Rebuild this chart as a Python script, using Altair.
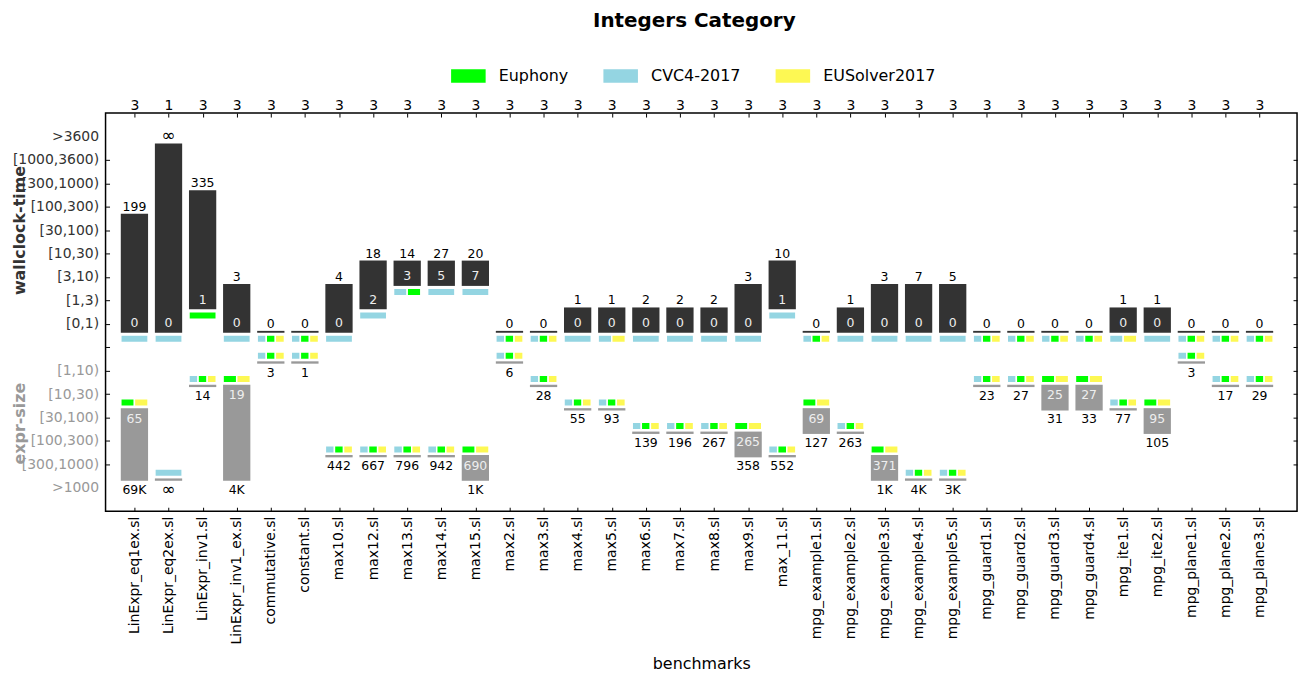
import math
import json
import altair as alt
import pandas as pd

# ---------------- data ----------------
benchmarks = [
    "LinExpr_eq1ex.sl", "LinExpr_eq2ex.sl", "LinExpr_inv1.sl", "LinExpr_inv1_ex.sl",
    "commutative.sl", "constant.sl", "max10.sl", "max12.sl", "max13.sl", "max14.sl",
    "max15.sl", "max2.sl", "max3.sl", "max4.sl", "max5.sl", "max6.sl", "max7.sl",
    "max8.sl", "max9.sl", "max_11.sl", "mpg_example1.sl", "mpg_example2.sl",
    "mpg_example3.sl", "mpg_example4.sl", "mpg_example5.sl", "mpg_guard1.sl",
    "mpg_guard2.sl", "mpg_guard3.sl", "mpg_guard4.sl", "mpg_ite1.sl", "mpg_ite2.sl",
    "mpg_plane1.sl", "mpg_plane2.sl", "mpg_plane3.sl",
]
solved = [3, 1, 3, 3, 3, 3, 3, 3, 3, 3, 3, 3, 3, 3, 3, 3, 3,
          3, 3, 3, 3, 3, 3, 3, 3, 3, 3, 3, 3, 3, 3, 3, 3, 3]

time_best = ["0", "0", "1", "0", "0", "0", "0", "2", "3", "5", "7", "0", "0", "0", "0", "0", "0",
             "0", "0", "1", "0", "0", "0", "0", "0", "0", "0", "0", "0", "0", "0", "0", "0", "0"]
time_worst = ["199", "∞", "335", "3", "0", "0", "4", "18", "14", "27", "20", "0", "0", "1", "1", "2", "2",
              "2", "3", "10", "0", "1", "3", "7", "5", "0", "0", "0", "0", "1", "1", "0", "0", "0"]
time_winners = ["C", "C", "E", "C", "CEY", "CEY", "C", "C", "CE", "C", "C", "CEY", "CEY", "C", "CY", "C", "C",
                "C", "C", "C", "CEY", "C", "C", "C", "C", "CEY", "CEY", "CEY", "CEY", "CY", "C", "CEY", "CEY", "CEY"]

size_best = ["65", "∞", "14", "19", "3", "1", "442", "667", "796", "942", "690", "6", "28", "55", "93", "139", "196",
             "267", "265", "552", "69", "263", "371", "4K", "3K", "23", "27", "25", "27", "77", "95", "3", "17", "29"]
size_worst = ["69K", "∞", "14", "4K", "3", "1", "442", "667", "796", "942", "1K", "6", "28", "55", "93", "139", "196",
              "267", "358", "552", "127", "263", "1K", "4K", "3K", "23", "27", "31", "33", "77", "105", "3", "17", "29"]
size_winners = ["EY", "C", "CEY", "EY", "CEY", "CEY", "CEY", "CEY", "CEY", "CEY", "EY", "CEY", "CEY", "CEY", "CEY", "CEY", "CEY",
                "CEY", "EY", "CEY", "EY", "CEY", "EY", "CEY", "CEY", "CEY", "CEY", "EY", "EY", "CEY", "EY", "CEY", "CEY", "CEY"]

time_bins = ["[0,1)", "[1,3)", "[3,10)", "[10,30)", "[30,100)", "[100,300)", "[300,1000)", "[1000,3600)", ">3600"]
size_bins = ["[1,10)", "[10,30)", "[30,100)", "[100,300)", "[300,1000)", ">1000"]
time_edges = [1, 3, 10, 30, 100, 300, 1000, 3600]
size_edges = [10, 30, 100, 300, 1000]

solver_names = ["Euphony", "CVC4-2017", "EUSolver2017"]
solver_colors = ["#00FF00", "#94D5E2", "#FDF853"]
solver_codes = {"C": "CVC4-2017", "E": "Euphony", "Y": "EUSolver2017"}

FONT = "DejaVu Sans"


def parse(v):
    if v == "∞":
        return math.inf
    if v.endswith("K"):
        return float(v[:-1]) * 1000
    return float(v)


def time_level(v):
    val = parse(v)
    return sum(1 for e in time_edges if e <= val)


def size_level(v):
    val = parse(v)
    return -(2 + sum(1 for e in size_edges if e <= val))


# ---------------- derived tables ----------------
HALF = 0.4
bar_top, bar_bot, strips, texts = [], [], [], []
for i, b in enumerate(benchmarks):
    tmin, tmax = time_level(time_best[i]), time_level(time_worst[i])
    smin, smax = size_level(size_best[i]), size_level(size_worst[i])
    bar_top.append({"x": i - HALF, "x2": i + HALF, "y": tmin - 0.38, "y2": tmax - 0.30})
    bar_bot.append({"x": i - HALF, "x2": i + HALF, "y": smin + 0.40, "y2": smax + 0.30})
    for code, lvl, sign in ((time_winners[i], tmin, -1), (size_winners[i], smin, 1)):
        n = len(code)
        w = 2 * HALF / n
        for k, c in enumerate(code):
            x0 = i - HALF + k * w
            strips.append({"x": x0, "x2": x0 + w, "y": lvl + sign * 0.48,
                           "y2": lvl + sign * 0.80, "solver": solver_codes[c]})
    texts.append({"x": i, "y": tmax, "label": time_worst[i], "kind": "outer"})
    texts.append({"x": i, "y": smax - 0.08, "label": size_worst[i], "kind": "outer"})
    if time_best[i] != time_worst[i]:
        texts.append({"x": i, "y": tmin + 0.03, "label": time_best[i], "kind": "inner"})
    if size_best[i] != size_worst[i]:
        texts.append({"x": i, "y": smin - 0.06, "label": size_best[i], "kind": "inner"})

df_bt = pd.DataFrame(bar_top)
df_bb = pd.DataFrame(bar_bot)
df_st = pd.DataFrame(strips)
df_tx = pd.DataFrame(texts)

XS = alt.Scale(domain=[-0.847, 34.1], nice=False, zero=False)
YS = alt.Scale(domain=[-8, 9], nice=False, zero=False)

names_js = json.dumps(benchmarks, ensure_ascii=False)
solved_js = json.dumps([str(s) for s in solved])
tb_js = json.dumps(time_bins, ensure_ascii=False)
sb_js = json.dumps(size_bins, ensure_ascii=False)

x_bottom = alt.Axis(
    orient="bottom", values=list(range(len(benchmarks))),
    labelExpr=f"{names_js}[datum.value]", labelAngle=270, labelFontSize=14,
    labelColor="black", labelPadding=5, tickSize=4, offset=-4, tickColor="black",
    domain=False, grid=False, title="benchmarks", titleFontSize=16,
    titleFontWeight="normal", titleColor="black", titlePadding=11, labelFont=FONT, titleFont=FONT,
)
x_top = alt.Axis(
    orient="top", values=list(range(len(benchmarks))),
    labelExpr=f"{solved_js}[datum.value]", labelFontSize=14, labelColor="black",
    labelPadding=1, tickSize=4, offset=-4, tickColor="black", domain=False, grid=False,
    title=None, labelFont=FONT,
)
y_left = alt.Axis(
    orient="left", values=list(range(-7, 9)),
    labelExpr=f"datum.value >= 0 ? {tb_js}[datum.value] : (datum.value <= -2 ? {sb_js}[-2 - datum.value] : '')",
    labelFontSize=14, labelPadding=7, tickSize=4, offset=-4, tickColor="black",
    labelColor={"condition": {"test": "datum.value < 0", "value": "#999999"}, "value": "#333333"},
    tickOpacity={"condition": {"test": "datum.value == 8 || datum.value == -7", "value": 0}, "value": 1},
    domain=False, grid=False, title=None, labelFont=FONT,
)
y_right = alt.Axis(
    orient="right", values=list(range(-6, 8)), labels=False, tickSize=4, offset=-4,
    tickColor="black", domain=False, grid=False, title=None,
)

bars_top = alt.Chart(df_bt).mark_rect(color="#333333").encode(
    x=alt.X("x:Q", scale=XS, axis=x_bottom),
    x2="x2:Q",
    y=alt.Y("y:Q", scale=YS, axis=y_left),
    y2="y2:Q",
)
bars_bot = alt.Chart(df_bb).mark_rect(color="#999999").encode(
    x=alt.X("x:Q", scale=XS, axis=x_top),
    x2="x2:Q",
    y=alt.Y("y:Q", scale=YS, axis=y_right),
    y2="y2:Q",
)
strip_layer = alt.Chart(df_st).mark_rect(stroke="white", strokeWidth=1.5).encode(
    x=alt.X("x:Q", scale=XS, axis=None),
    x2="x2:Q",
    y=alt.Y("y:Q", scale=YS, axis=None),
    y2="y2:Q",
    color=alt.Color(
        "solver:N",
        scale=alt.Scale(domain=solver_names, range=solver_colors),
        legend=alt.Legend(
            orient="none", legendX=347, legendY=-55, direction="horizontal", title=None,
            symbolType="M-1,-0.385H1V0.385H-1Z", symbolSize=1204, symbolStrokeWidth=0,
            symbolOpacity=1, labelFontSize=16, labelFont=FONT, labelColor="black",
            labelOffset=13, columnPadding=35, padding=0,
        ),
    ),
)

text_base = alt.Chart(df_tx).encode(
    x=alt.X("x:Q", scale=XS, axis=None),
    y=alt.Y("y:Q", scale=YS, axis=None),
    text="label:N",
    size=alt.condition("datum.label == '∞'", alt.value(17), alt.value(12.5)),
)
outer_text = text_base.transform_filter("datum.kind == 'outer'").mark_text(
    font=FONT, color="black", baseline="middle")
inner_text = text_base.transform_filter("datum.kind == 'inner'").mark_text(
    font=FONT, color="#EEEEEE", baseline="middle")

section_titles = pd.DataFrame({"t": ["wallclock-time", "expr-size"]})
wall_title = alt.Chart(section_titles).transform_filter("datum.t == 'wallclock-time'").mark_text(
    font=FONT, fontSize=16, fontWeight="bold", color="#333333", angle=270,
    align="center", baseline="middle").encode(
    text="t:N", x=alt.value(-86), y=alt.value(118))
expr_title = alt.Chart(section_titles).transform_filter("datum.t == 'expr-size'").mark_text(
    font=FONT, fontSize=16, fontWeight="bold", color="#999999", angle=270,
    align="center", baseline="middle").encode(
    text="t:N", x=alt.value(-86), y=alt.value(312))

chart = alt.layer(
    bars_top, bars_bot, strip_layer, outer_text, inner_text, wall_title, expr_title
).resolve_axis(x="independent", y="independent").properties(
    width=1197, height=400,
    title=alt.TitleParams("Integers Category", fontSize=20, fontWeight="bold", font=FONT,
                          color="black", anchor="middle", offset=27, dx=-7),
    autosize=alt.AutoSizeParams(type="none"),
    padding={"left": 98, "top": 104, "right": 10, "bottom": 164},
).configure(
    font=FONT,
    view=alt.ViewConfig(stroke="black", strokeWidth=1.5),
)

chart.save("out.html", embed_options={"renderer": "svg", "actions": False})
